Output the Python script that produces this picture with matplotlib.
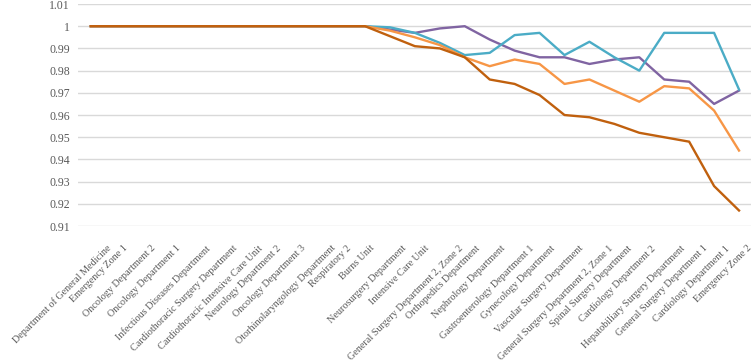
import matplotlib
matplotlib.use("Agg")
from matplotlib import pyplot as plt
from matplotlib import transforms

departments = [
    "Department of General Medicine", "Emergency Zone 1", "Oncology Department 2",
    "Oncology Department 1", "Infectious Diseases Department",
    "Cardiothoracic Surgery Department", "Cardiothoracic Intensive Care Unit",
    "Neurology Department 2", "Oncology Department 3",
    "Otorhinolaryngology Department", "Respiratory 2", "Burns Unit",
    "Neurosurgery Department", "Intensive Care Unit",
    "General Surgery Department 2, Zone 2", "Orthopedics Department",
    "Nephrology Department", "Gastroenterology Department 1",
    "Gynecology Department", "Vascular Surgery Department",
    "General Surgery Department 2, Zone 1", "Spinal Surgery Department",
    "Cardiology Department 2", "Hepatobiliary Surgery Department",
    "General Surgery Department 1", "Cardiology Department 1", "Emergency Zone 2",
]

flat = [1.0] * 12
purple = flat + [0.9985, 0.997, 0.999, 1.000, 0.994, 0.989, 0.986, 0.986, 0.983,
                 0.985, 0.986, 0.976, 0.975, 0.965, 0.971]
teal = flat + [0.9995, 0.997, 0.9925, 0.987, 0.988, 0.996, 0.997, 0.987, 0.993,
               0.986, 0.980, 0.997, 0.997, 0.997, 0.9715]
light_orange = flat + [0.998, 0.995, 0.9915, 0.986, 0.982, 0.985, 0.983, 0.974,
                       0.976, 0.971, 0.966, 0.973, 0.972, 0.962, 0.944]
dark_orange = flat + [0.9955, 0.991, 0.990, 0.986, 0.976, 0.974, 0.969, 0.960,
                      0.959, 0.956, 0.952, 0.950, 0.948, 0.928, 0.917]

plt.rcParams['font.family'] = ['Liberation Serif', 'DejaVu Serif']

fig = plt.figure(figsize=(7.53, 3.64), dpi=100)
ax = fig.add_axes([0.104, 0.379, 0.894, 0.610])

x = list(range(len(departments)))
ax.plot(x, purple, color='#8064A2', lw=1.7)
ax.plot(x, teal, color='#4BACC6', lw=1.7)
ax.plot(x, light_orange, color='#F79646', lw=1.7)
ax.plot(x, dark_orange, color='#C0600E', lw=1.7)

ax.set_xlim(-0.5, len(departments) - 0.5)
ax.set_ylim(0.91, 1.01)
yt = [0.91, 0.92, 0.93, 0.94, 0.95, 0.96, 0.97, 0.98, 0.99, 1.0, 1.01]
ax.set_yticks(yt)
ax.set_yticklabels(["%g" % v for v in yt], fontsize=8.5, color='#595959')
ax.yaxis.grid(True, color='#D9D9D9', lw=1)
ax.set_axisbelow(True)
for s in ax.spines.values():
    s.set_visible(False)
ax.tick_params(length=0)
ax.tick_params(axis='y', pad=6)

ax.set_xticks(x)
ax.set_xticklabels(departments, rotation=45, ha='right', va='center',
                   rotation_mode='anchor', fontsize=7.3, color='#595959')
ax.tick_params(axis='x', pad=15)
# excel pushes longer labels a bit further right
for lab in ax.get_xticklabels():
    dx = (2 + 0.55 * len(lab.get_text())) / 100
    off = transforms.ScaledTranslation(dx, 0, fig.dpi_scale_trans)
    lab.set_transform(lab.get_transform() + off)

fig.savefig("out.png", dpi=100)
